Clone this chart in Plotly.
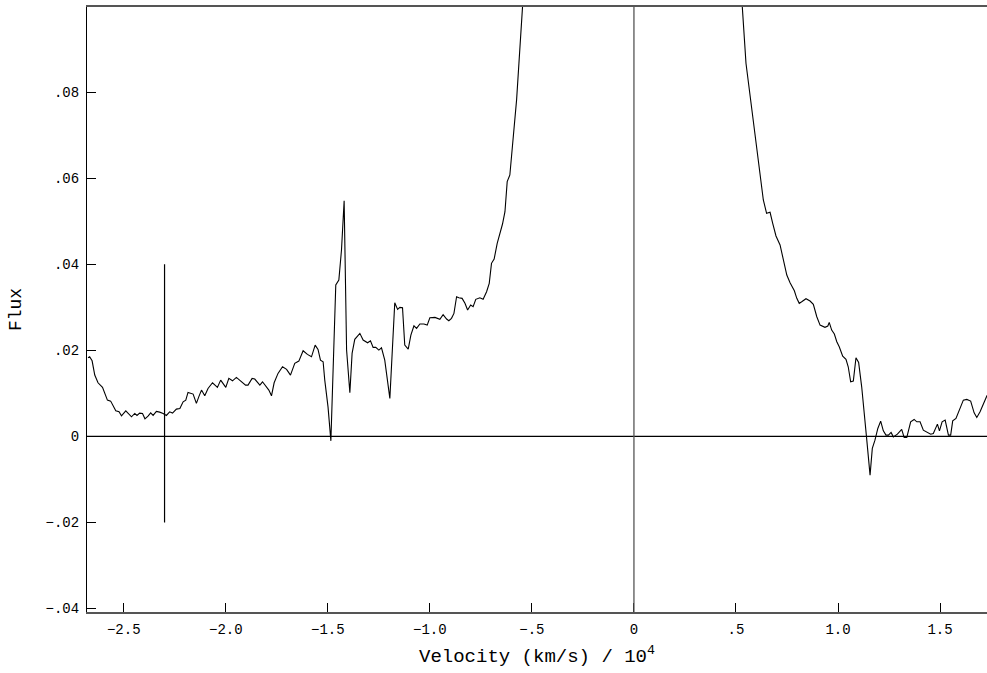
import plotly.graph_objects as go

# Spectrum: velocity (units of 1e4 km/s) and flux
velocity = [
    -2.675, -2.667, -2.655, -2.642, -2.626, -2.604, -2.580, -2.564, -2.539, -2.523,
    -2.511, -2.490, -2.462, -2.446, -2.435, -2.422, -2.408, -2.396, -2.381, -2.368,
    -2.356, -2.340, -2.324, -2.307, -2.291, -2.275, -2.261, -2.242, -2.225, -2.209,
    -2.196, -2.185, -2.160, -2.144, -2.131, -2.119, -2.103, -2.087, -2.065, -2.041,
    -2.025, -2.000, -1.985, -1.967, -1.948, -1.931, -1.903, -1.891, -1.871, -1.858,
    -1.833, -1.820, -1.804, -1.789, -1.776, -1.763, -1.744, -1.722, -1.702, -1.683,
    -1.662, -1.642, -1.621, -1.600, -1.580, -1.562, -1.548, -1.536, -1.523, -1.515,
    -1.499, -1.485, -1.461, -1.446, -1.433, -1.420, -1.408, -1.392, -1.381, -1.368,
    -1.343, -1.327, -1.305, -1.291, -1.278, -1.265, -1.250, -1.237, -1.221, -1.209,
    -1.196, -1.172, -1.158, -1.147, -1.134, -1.123, -1.106, -1.093, -1.078, -1.065,
    -1.049, -1.029, -1.013, -1.000, -0.975, -0.951, -0.935, -0.918, -0.907, -0.894,
    -0.882, -0.869, -0.858, -0.842, -0.828, -0.815, -0.800, -0.788, -0.775, -0.755,
    -0.739, -0.722, -0.709, -0.698, -0.685, -0.670, -0.657, -0.644, -0.632, -0.621,
    -0.608, -0.575, -0.546, -0.50, -0.40, -0.20, 0.00, 0.20, 0.40, 0.50,
    0.531, 0.549, 0.634, 0.650, 0.667, 0.680, 0.696, 0.716, 0.732, 0.749,
    0.765, 0.786, 0.798, 0.810, 0.822, 0.843, 0.863, 0.879, 0.896, 0.912,
    0.936, 0.950, 0.957, 0.969, 0.982, 0.994, 1.006, 1.023, 1.039, 1.050,
    1.062, 1.075, 1.088, 1.101, 1.116, 1.127, 1.141, 1.157, 1.168, 1.181,
    1.195, 1.209, 1.222, 1.235, 1.247, 1.260, 1.271, 1.291, 1.312, 1.324,
    1.337, 1.356, 1.373, 1.386, 1.402, 1.418, 1.435, 1.454, 1.467, 1.487,
    1.497, 1.510, 1.525, 1.541, 1.552, 1.562, 1.578, 1.595, 1.614, 1.631,
    1.650, 1.667, 1.680, 1.696, 1.712, 1.729, 1.745,
]
flux = [
    0.01828, 0.01851, 0.01758, 0.01426, 0.01247, 0.01140, 0.00844, 0.00821, 0.00595, 0.00572,
    0.00479, 0.00595, 0.00456, 0.00535, 0.00488, 0.00542, 0.00535, 0.00409, 0.00472, 0.00549,
    0.00488, 0.00581, 0.00565, 0.00535, 0.00488, 0.00572, 0.00542, 0.00635, 0.00651, 0.00805,
    0.00844, 0.01023, 0.00984, 0.00767, 0.00937, 0.01077, 0.00944, 0.01116, 0.01247, 0.01140,
    0.01309, 0.01140, 0.01349, 0.01293, 0.01372, 0.01309, 0.01193, 0.01193, 0.01349, 0.01333,
    0.01193, 0.01270, 0.01170, 0.01077, 0.00944, 0.01247, 0.01465, 0.01619, 0.01558, 0.01426,
    0.01698, 0.01751, 0.01991, 0.01907, 0.01851, 0.02123, 0.02023, 0.01774, 0.01735, 0.01309,
    0.00688, -0.00102, 0.03519, 0.03635, 0.04333, 0.05479, 0.02007, 0.01014, 0.01930, 0.02256,
    0.02395, 0.02240, 0.02177, 0.02223, 0.02070, 0.02070, 0.02007, 0.02060, 0.01774, 0.01386,
    0.00884, 0.03107, 0.02953, 0.03000, 0.02991, 0.02123, 0.02030, 0.02356, 0.02572, 0.02512,
    0.02612, 0.02612, 0.02588, 0.02758, 0.02767, 0.02721, 0.02828, 0.02728, 0.02688, 0.02744,
    0.02860, 0.03247, 0.03223, 0.03209, 0.03093, 0.02937, 0.03053, 0.03014, 0.03186, 0.03223,
    0.03186, 0.03363, 0.03558, 0.04023, 0.04123, 0.04488, 0.04721, 0.04937, 0.05223, 0.05921,
    0.06077, 0.07821, 0.09977, 0.130, 0.200, 0.300, 0.330, 0.280, 0.180, 0.120,
    0.09977, 0.08674, 0.05495, 0.05186, 0.05209, 0.04953, 0.04658, 0.04449, 0.04100, 0.03751,
    0.03572, 0.03386, 0.03209, 0.03093, 0.03130, 0.03200, 0.03147, 0.03070, 0.02781, 0.02588,
    0.02535, 0.02565, 0.02651, 0.02472, 0.02379, 0.02200, 0.02084, 0.01867, 0.01791, 0.01619,
    0.01270, 0.01286, 0.01828, 0.01721, 0.01153, 0.00535, -0.00086, -0.00900, -0.00279, -0.00086,
    0.00186, 0.00356, 0.00130, 0.00030, 0.00030, 0.00093, -0.00010, 0.00053, 0.00163, -0.00023,
    -0.00023, 0.00340, 0.00395, 0.00340, 0.00340, 0.00147, 0.00107, 0.00053, 0.00070, 0.00286,
    0.00130, 0.00340, 0.00379, 0.00030, 0.00030, 0.00363, 0.00419, 0.00612, 0.00844, 0.00860,
    0.00821, 0.00549, 0.00442, 0.00572, 0.00767, 0.00937, 0.01050,
]

x_tick_vals = [-2.5, -2.0, -1.5, -1.0, -0.5, 0.0, 0.5, 1.0, 1.5]
x_tick_text = ["\u22122.5", "\u22122.0", "\u22121.5", "\u22121.0", "\u2212.5", "0", ".5", "1.0", "1.5"]
y_tick_vals = [-0.04, -0.02, 0.0, 0.02, 0.04, 0.06, 0.08]
y_tick_text = ["\u2212.04", "\u2212.02", "0", ".02", ".04", ".06", ".08"]

marker_velocity = -2.3
marker_flux_range = [-0.02, 0.04]

x_range = [-2.68, 1.73]
y_range = [-0.0408, 0.0998]

fig = go.Figure()
fig.add_trace(go.Scatter(x=velocity, y=flux, mode="lines",
                         line=dict(color="black", width=1.1), showlegend=False,
                         hoverinfo="skip"))
# vertical marker bar
fig.add_trace(go.Scatter(x=[marker_velocity, marker_velocity], y=marker_flux_range,
                         mode="lines", line=dict(color="black", width=1.2),
                         showlegend=False, hoverinfo="skip"))

fig.add_shape(type="line", xref="paper", yref="y", x0=0, x1=1, y0=0, y1=0,
              line=dict(color="black", width=1.2))
fig.add_shape(type="line", xref="x", yref="paper", x0=0, x1=0, y0=0, y1=1,
              line=dict(color="#555555", width=1.3))

tick_font = dict(family="Liberation Mono", size=14, color="black")
title_font = dict(family="Liberation Mono", size=19, color="black")
ytitle_font = dict(family="Liberation Mono", size=18, color="black")

fig.update_layout(
    width=987, height=673,
    margin=dict(l=87, r=0, t=7, b=61, autoexpand=False),
    paper_bgcolor="white", plot_bgcolor="white",
    xaxis=dict(range=x_range, tickvals=x_tick_vals, ticktext=x_tick_text,
               ticks="inside", ticklen=9, tickwidth=1, tickcolor="black",
               showline=True, linecolor="#555555", linewidth=1.5, mirror=True,
               showgrid=False, zeroline=False, tickfont=tick_font,
               ticklabelstandoff=3, automargin=False,
               title=dict(text="Velocity (km/s) / 10<sup>4</sup>", font=title_font, standoff=12)),
    yaxis=dict(range=y_range, tickvals=y_tick_vals, ticktext=y_tick_text,
               ticks="inside", ticklen=9, tickwidth=1, tickcolor="black",
               showline=True, linecolor="black", linewidth=1.2, mirror=False,
               showgrid=False, zeroline=False, tickfont=tick_font,
               ticklabelstandoff=4, automargin=False,
               title=dict(text="Flux", font=ytitle_font, standoff=19)),
)

fig.write_html("out.html",
               config={"displayModeBar": False},
               post_script="document.body.style.margin='0';document.body.style.overflow='hidden';")
